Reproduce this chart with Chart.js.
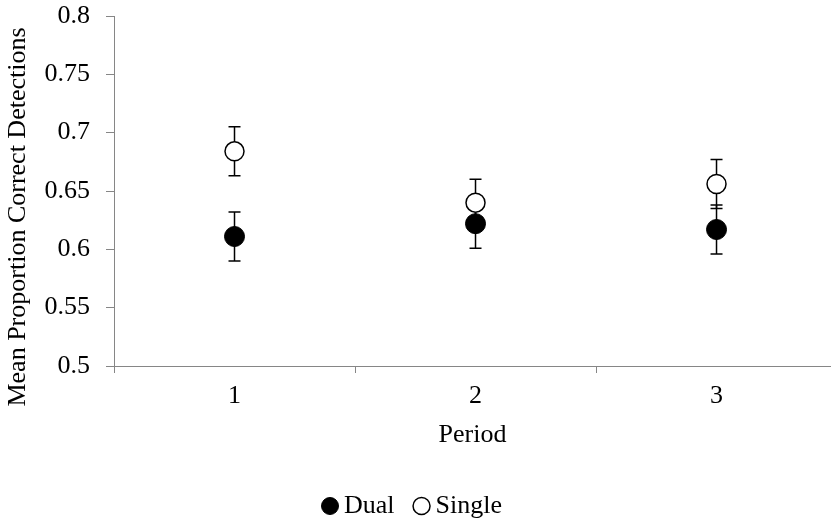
<!DOCTYPE html>
<html>
<head>
<meta charset="utf-8">
<script src="https://cdn.jsdelivr.net/npm/chart.js@4/dist/chart.umd.min.js"></script>
<style>
  html, body { margin: 0; padding: 0; background: #fff; }
  #wrap { width: 831px; height: 519px; }
</style>
</head>
<body>
<div id="wrap"><canvas id="chart"></canvas></div>
<script>
const periods = [1, 2, 3];
const periodLabels = ['1', '2', '3'];
const dualMeans = [0.611, 0.622, 0.617];
const dualErrors = [0.021, 0.021, 0.021];
const singleMeans = [0.684, 0.640, 0.656];
const singleErrors = [0.021, 0.020, 0.021];
const yTicks = [0.5, 0.55, 0.6, 0.65, 0.7, 0.75, 0.8];

const axisGray = '#868686';
const serif = "'Liberation Serif', 'Times New Roman', serif";

// error bars drawn from the same scales as the points
const errorBars = {
    id: 'errorBars',
    beforeDatasetsDraw(chart) {
        const { ctx, scales: { x, y } } = chart;
        const sets = [[dualMeans, dualErrors], [singleMeans, singleErrors]];
        ctx.save();
        ctx.strokeStyle = '#000';
        ctx.lineWidth = 1.5;
        sets.forEach(([means, errs]) => {
            periods.forEach((p, i) => {
                const px = x.getPixelForValue(p);
                const top = y.getPixelForValue(means[i] + errs[i]);
                const bot = y.getPixelForValue(means[i] - errs[i]);
                ctx.beginPath();
                ctx.moveTo(px, top); ctx.lineTo(px, bot);
                ctx.moveTo(px - 6, top); ctx.lineTo(px + 6, top);
                ctx.moveTo(px - 6, bot); ctx.lineTo(px + 6, bot);
                ctx.stroke();
            });
        });
        ctx.restore();
    }
};

new Chart(document.getElementById('chart'), {
    type: 'scatter',
    data: {
        datasets: [{
            label: 'Dual',
            data: periods.map((p, i) => ({ x: p, y: dualMeans[i] })),
            backgroundColor: '#000',
            borderColor: '#000',
            borderWidth: 1,
            pointRadius: 10,
            pointHoverRadius: 10
        }, {
            label: 'Single',
            data: periods.map((p, i) => ({ x: p, y: singleMeans[i] })),
            backgroundColor: '#fff',
            borderColor: '#000',
            borderWidth: 1.5,
            pointRadius: 9.5,
            pointHoverRadius: 9.5
        }]
    },
    options: {
        responsive: true,
        maintainAspectRatio: false,
        animation: false,
        layout: { autoPadding: false, padding: { top: 16, right: 0, bottom: -10, left: 0 } },
        plugins: {
            tooltip: { enabled: false },
            legend: {
                position: 'bottom',
                labels: {
                    usePointStyle: true,
                    pointStyle: 'circle',
                    boxWidth: 2,
                    boxHeight: 12,
                    padding: 26,
                    color: '#000',
                    font: { family: serif, size: 26 }
                }
            }
        },
        scales: {
            x: {
                type: 'linear',
                min: 0.5,
                max: 3.475,
                afterBuildTicks: (scale) => {
                    scale.ticks = [0.5, 1, 1.5, 2, 2.5, 3].map(v => ({ value: v }));
                },
                afterFit: (scale) => {
                    scale.height = 101;
                    scale.paddingLeft = 0;
                    scale.paddingRight = 0;
                },
                border: { color: axisGray, width: 1 },
                grid: {
                    drawOnChartArea: false,
                    tickLength: 7,
                    color: (c) => (c.tick && Number.isInteger(c.tick.value)) ? 'rgba(0,0,0,0)' : axisGray
                },
                ticks: {
                    autoSkip: false,
                    maxRotation: 0,
                    padding: 8,
                    color: '#000',
                    font: { family: serif, size: 26 },
                    callback: (v) => Number.isInteger(v) ? periodLabels[periods.indexOf(v)] : ''
                },
                title: {
                    display: true,
                    text: 'Period',
                    color: '#000',
                    font: { family: serif, size: 26 },
                    padding: { top: 0, bottom: 16 }
                }
            },
            y: {
                min: 0.5,
                max: 0.8,
                afterBuildTicks: (scale) => {
                    scale.ticks = yTicks.map(v => ({ value: v }));
                },
                afterFit: (scale) => {
                    scale.width = 114;
                    scale.paddingTop = 0;
                    scale.paddingBottom = 0;
                },
                border: { color: axisGray, width: 1 },
                grid: { drawOnChartArea: false, tickLength: 8, color: axisGray },
                ticks: {
                    padding: 16,
                    color: '#000',
                    font: { family: serif, size: 26 },
                    callback: (v) => String(Number(v.toFixed(2)))
                },
                title: {
                    display: true,
                    // trailing spaces push the centred title down, as in the original
                    text: 'Mean Proportion Correct Detections        ',
                    color: '#000',
                    font: { family: serif, size: 26 },
                    padding: { top: 3, bottom: 0 }
                }
            }
        }
    },
    plugins: [errorBars]
});
</script>
</body>
</html>
